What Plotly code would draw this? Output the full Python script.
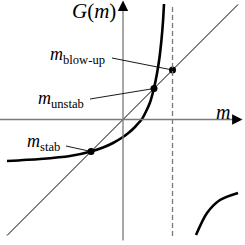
import plotly.graph_objects as go

# Curve G(m) (left branch and right branch)
m_left = [-116, -83, -53, -32, -20, -10, 0, 6, 12, 16, 19, 23, 27, 31, 34, 36.5, 38.5, 40, 41]
g_left = [-41.5, -39.5, -36.5, -32, -28, -23.5, -17.5, -13, -7.5, -3, 0.5, 8, 17, 31.5, 46, 62, 80, 98, 115.5]
m_right = [73, 84, 97, 115]
g_right = [-115.5, -93.5, -80.5, -73.5]

# Diagonal G = m
diag_m = [-116, 115]

# Special points
pt_names = ["m<sub>stab</sub>", "m<sub>unstab</sub>", "m<sub>blow-up</sub>"]
pt_m = [-32, 31, 49.5]

asym_m = 49.5

XR = [-123, 122]
YR = [-125.5, 119.5]

fig = go.Figure()

axis_gray = "#7a7a7a"
fig.add_shape(type="line", x0=XR[0], x1=117, y0=0, y1=0, line=dict(color=axis_gray, width=1.3))
fig.add_shape(type="line", x0=0, x1=0, y0=-121, y1=116, line=dict(color=axis_gray, width=1.3))
fig.add_shape(type="line", x0=asym_m, x1=asym_m, y0=-116.5, y1=115.5,
              line=dict(color=axis_gray, width=1.3, dash="5px,3px"))

fig.add_trace(go.Scatter(x=diag_m, y=diag_m, mode="lines",
                         line=dict(color="black", width=1.0), hoverinfo="skip"))
fig.add_trace(go.Scatter(x=m_left, y=g_left, mode="lines",
                         line=dict(color="black", width=2.6, shape="spline", smoothing=0.8), hoverinfo="skip"))
fig.add_trace(go.Scatter(x=m_right, y=g_right, mode="lines",
                         line=dict(color="black", width=2.6, shape="spline", smoothing=0.8), hoverinfo="skip"))
fig.add_trace(go.Scatter(x=pt_m, y=pt_m, mode="markers",
                         marker=dict(color="black", size=7), hoverinfo="skip"))

# Axis arrowheads
fig.add_annotation(x=119.5, y=0, ax=112, ay=0, axref="x", ayref="y", xref="x", yref="y",
                   showarrow=True, arrowhead=2, arrowsize=1.6, arrowwidth=1.3, arrowcolor="black",
                   standoff=0, text="")
fig.add_annotation(x=0, y=119, ax=0, ay=111, axref="x", ayref="y", xref="x", yref="y",
                   showarrow=True, arrowhead=2, arrowsize=1.6, arrowwidth=1.3, arrowcolor="black",
                   standoff=0, text="")

serif = "Liberation Serif"
# Labels with leader lines
label_pos = [(-61, -22.5), (-37, 20.5), (-16, 64.5)]
leader_start = [(-57, -26.5), (-33, 20.5), (-11, 61.5)]
for name, (lx, ly), (sx, sy), pm in zip(pt_names, label_pos, leader_start, pt_m):
    fig.add_shape(type="line", x0=sx, y0=sy, x1=pm, y1=pm, line=dict(color="black", width=0.9))
    parts = name.split("<sub>")
    fig.add_annotation(x=lx, y=ly, xref="x", yref="y", showarrow=False, xanchor="right", yanchor="middle",
                       text="<i>" + parts[0] + "</i><sub>" + parts[1],
                       font=dict(family=serif, size=18, color="black"))

fig.add_annotation(x=-5, y=108.5, xref="x", yref="y", showarrow=False, xanchor="right", yanchor="middle",
                   text="<i>G</i>(<i>m</i>)", font=dict(family=serif, size=21, color="black"))
fig.add_annotation(x=99.5, y=7.5, xref="x", yref="y", showarrow=False, xanchor="center", yanchor="middle",
                   text="<i>m</i>", font=dict(family=serif, size=20, color="black"))

fig.update_layout(width=245, height=245, margin=dict(l=0, r=0, t=0, b=0),
                  plot_bgcolor="white", paper_bgcolor="white", showlegend=False)
fig.update_xaxes(range=XR, visible=False, fixedrange=True)
fig.update_yaxes(range=YR, visible=False, fixedrange=True)

fig.write_html("out.html", config={"displayModeBar": False},
               post_script="document.body.style.margin='0';document.body.style.padding='0';")
